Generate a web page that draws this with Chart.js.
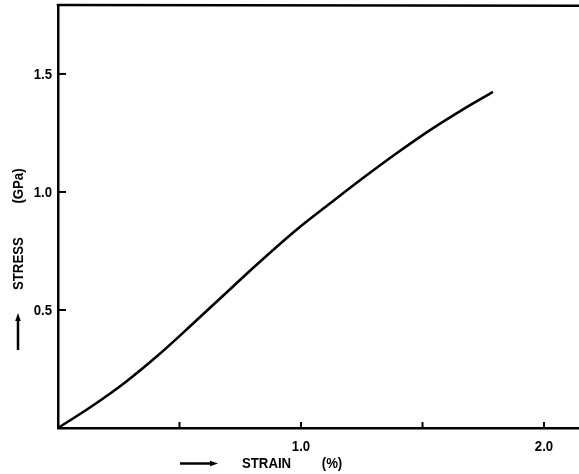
<!DOCTYPE html>
<html>
<head>
<meta charset="utf-8">
<script src="https://cdn.jsdelivr.net/npm/chart.js@4/dist/chart.umd.min.js"></script>
<style>
  html, body { margin: 0; padding: 0; background: #fff; }
  #wrap { width: 579px; height: 474px; position: relative; }
</style>
</head>
<body>
<div id="wrap"><canvas id="c" width="579" height="474"></canvas></div>
<script>
// Stress–strain curve (strain in %, stress in GPa)
const strain = [0, 0.136, 0.276, 0.412, 0.547, 0.687, 0.823, 0.984, 1.119, 1.255, 1.395, 1.531, 1.667, 1.790];
const stress = [0, 0.090, 0.193, 0.308, 0.434, 0.568, 0.697, 0.842, 0.951, 1.059, 1.165, 1.262, 1.350, 1.424];

const xTicks = [0.5, 1.0, 1.5, 2.0];
const xTickLabels = ['', '1.0', '', '2.0'];
const yTicks = [0.5, 1.0, 1.5];
const yTickLabels = ['0.5', '1.0', '1.5'];

const FONT = "bold 15px 'Liberation Sans', Arial, sans-serif";
const SQUEEZE = 0.88;   // narrow lettering
const INK = '#000';

const points = strain.map((x, i) => ({ x: x, y: stress[i] }));

// draw horizontally condensed text
function narrowText(ctx, text, x, y, align) {
  ctx.save();
  ctx.translate(x, y);
  ctx.scale(SQUEEZE, 1);
  ctx.textAlign = align;
  ctx.fillText(text, 0, 0);
  ctx.restore();
}

function arrow(ctx, x1, y1, x2, y2) {
  const ang = Math.atan2(y2 - y1, x2 - x1);
  const hx = x2 - Math.cos(ang) * 8, hy = y2 - Math.sin(ang) * 8;
  ctx.lineWidth = 2.5;
  ctx.beginPath();
  ctx.moveTo(x1, y1);
  ctx.lineTo(hx, hy);
  ctx.stroke();
  const nx = -Math.sin(ang) * 2.8, ny = Math.cos(ang) * 2.8;
  ctx.beginPath();
  ctx.moveTo(x2, y2);
  ctx.lineTo(hx + nx, hy + ny);
  ctx.lineTo(hx - nx, hy - ny);
  ctx.closePath();
  ctx.fill();
}

// Frame top, inward tick marks, tick labels and arrowed axis titles
const decorations = {
  id: 'decorations',
  afterDraw(chart) {
    const ctx = chart.ctx;
    const area = chart.chartArea;
    const xs = chart.scales.x, ys = chart.scales.y;
    ctx.save();
    ctx.strokeStyle = INK;
    ctx.fillStyle = INK;
    ctx.lineCap = 'butt';

    // top frame line
    ctx.lineWidth = 2.5;
    ctx.beginPath();
    ctx.moveTo(area.left - 1.25, area.top);
    ctx.lineTo(area.right, area.top + 0.8);
    ctx.stroke();

    ctx.font = FONT;
    ctx.textBaseline = 'middle';

    // y ticks: marks pointing into the plot, labels to the left
    ctx.lineWidth = 2;
    yTicks.forEach((v, i) => {
      const py = ys.getPixelForValue(v);
      ctx.beginPath();
      ctx.moveTo(area.left, py);
      ctx.lineTo(area.left + 8, py);
      ctx.stroke();
      narrowText(ctx, yTickLabels[i], area.left - 6, py + 0.5, 'right');
    });
    // x ticks: marks pointing into the plot, labels below
    xTicks.forEach((v, i) => {
      const px = xs.getPixelForValue(v);
      ctx.beginPath();
      ctx.moveTo(px, area.bottom);
      ctx.lineTo(px, area.bottom - 6);
      ctx.stroke();
      if (xTickLabels[i]) narrowText(ctx, xTickLabels[i], px, area.bottom + 19, 'center');
    });

    // x title with arrow
    const ty = 463.5;
    arrow(ctx, 180, ty, 218, ty);
    narrowText(ctx, 'STRAIN', 242, ty, 'left');
    narrowText(ctx, '(%)', 332, ty, 'center');

    // y title with arrow, reading bottom-to-top
    arrow(ctx, 18, 350, 18, 313);
    ctx.save();
    ctx.translate(19, 0);
    ctx.rotate(-Math.PI / 2);
    narrowText(ctx, 'STRESS', -290, 0, 'left');
    narrowText(ctx, '(GPa)', -186, 0, 'center');
    ctx.restore();

    ctx.restore();
  }
};

new Chart(document.getElementById('c'), {
  type: 'scatter',
  data: {
    datasets: [{
      data: points,
      showLine: true,
      borderColor: INK,
      borderWidth: 2.6,
      pointRadius: 0,
      cubicInterpolationMode: 'monotone',
      fill: false
    }]
  },
  options: {
    responsive: false,
    animation: false,
    devicePixelRatio: 1,
    layout: { padding: { top: 5, right: 0, left: 0, bottom: 0 } },
    plugins: { legend: { display: false }, tooltip: { enabled: false } },
    scales: {
      x: {
        type: 'linear',
        min: 0,
        max: 2.144,
        afterFit(s) { s.height = 46; },
        afterBuildTicks(s) { s.ticks = xTicks.map(v => ({ value: v })); },
        ticks: { display: false },
        grid: { display: true, drawOnChartArea: false, drawTicks: false },
        border: { display: true, color: INK, width: 2.5 }
      },
      y: {
        type: 'linear',
        min: 0,
        max: 1.792,
        afterFit(s) { s.width = 58; },
        afterBuildTicks(s) { s.ticks = yTicks.map(v => ({ value: v })); },
        ticks: { display: false },
        grid: { display: true, drawOnChartArea: false, drawTicks: false },
        border: { display: true, color: INK, width: 2.5 }
      }
    }
  },
  plugins: [decorations]
});
</script>
</body>
</html>
